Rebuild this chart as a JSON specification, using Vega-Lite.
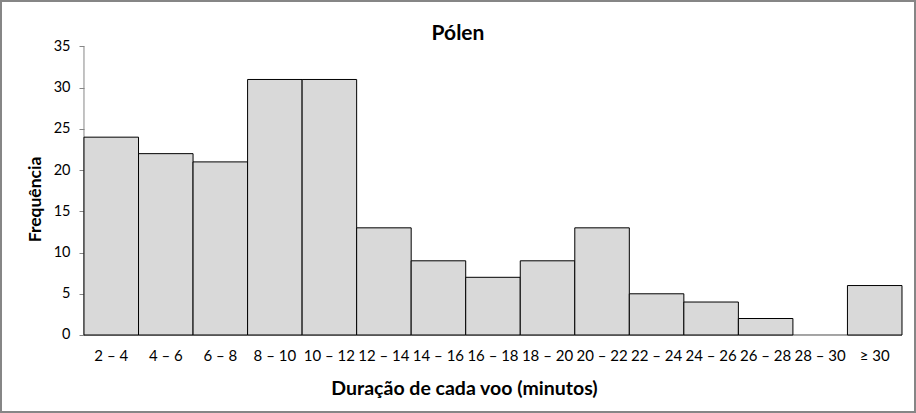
{
  "$schema": "https://vega.github.io/schema/vega-lite/v6.json",
  "width": 916,
  "height": 413,
  "autosize": {"type": "none"},
  "padding": 0,
  "background": "white",
  "config": {
    "view": {"stroke": "#868686", "strokeWidth": 4},
    "font": "Lato"
  },
  "title": {
    "text": "Pólen",
    "fontSize": 21,
    "fontWeight": "bold",
    "font": "Lato",
    "color": "black",
    "anchor": "middle",
    "baseline": "alphabetic",
    "offset": -61
  },
  "data": {
    "values": [
      {"bin": "2 – 4", "freq": 24},
      {"bin": "4 – 6", "freq": 22},
      {"bin": "6 – 8", "freq": 21},
      {"bin": "8 – 10", "freq": 31},
      {"bin": "10 – 12", "freq": 31},
      {"bin": "12 – 14", "freq": 13},
      {"bin": "14 – 16", "freq": 9},
      {"bin": "16 – 18", "freq": 7},
      {"bin": "18 – 20", "freq": 9},
      {"bin": "20 – 22", "freq": 13},
      {"bin": "22 – 24", "freq": 5},
      {"bin": "24 – 26", "freq": 4},
      {"bin": "26 – 28", "freq": 2},
      {"bin": "28 – 30", "freq": 0},
      {"bin": "≥ 30", "freq": 6}
    ]
  },
  "encoding": {
    "x": {
      "field": "bin",
      "type": "nominal",
      "sort": null,
      "scale": {
        "domain": ["2 – 4", "4 – 6", "6 – 8", "8 – 10", "10 – 12", "12 – 14", "14 – 16", "16 – 18", "18 – 20", "20 – 22", "22 – 24", "24 – 26", "26 – 28", "28 – 30", "≥ 30"],
        "paddingInner": 0,
        "paddingOuter": 0.8985,
        "align": 0.857
      },
      "axis": {
        "orient": "bottom",
        "offset": -78,
        "domain": false,
        "ticks": false,
        "tickSize": 0,
        "labelAngle": 0,
        "labelFontSize": 15,
        "labelColor": "black",
        "labelPadding": 13,
        "labelOverlap": false,
        "labelBound": false,
        "title": "Duração de cada voo (minutos)",
        "titleFontSize": 19.5,
        "titleFontWeight": "bold",
        "titleColor": "black",
        "titleX": 464,
        "titleY": 59,
        "titleBaseline": "alphabetic",
        "titleAlign": "center",
        "grid": false
      }
    }
  },
  "layer": [
    {
      "mark": {"type": "rect", "fill": "transparent", "stroke": "#868686", "strokeWidth": 1},
      "encoding": {
        "y": {"datum": 0, "type": "quantitative", "scale": {"domain": [-9.463, 40.641], "nice": false, "zero": false}},
        "y2": {"datum": 0}
      }
    },
    {
      "mark": {"type": "rule", "stroke": "#868686", "strokeWidth": 1},
      "encoding": {
        "x": {"datum": "2 – 4", "bandPosition": 0},
        "y": {"datum": 0, "type": "quantitative"},
        "y2": {"datum": 35}
      },
      "transform": [{"filter": "datum.bin === '2 – 4'"}]
    },
    {
      "transform": [{"filter": "datum.freq > 0"}],
      "mark": {"type": "bar", "fill": "#D9D9D9", "stroke": "black", "strokeWidth": 1},
      "encoding": {
        "y": {
          "field": "freq",
          "type": "quantitative",
          "scale": {"domain": [-9.463, 40.641], "nice": false, "zero": false},
          "axis": {
            "orient": "left",
            "offset": -84,
            "domain": false,
            "values": [0, 5, 10, 15, 20, 25, 30, 35],
            "tickColor": "#868686",
            "tickSize": 5,
            "labelFontSize": 14.5,
            "labelColor": "black",
            "labelPadding": 9,
            "grid": false,
            "title": "Frequência",
            "titleFontSize": 17.5,
            "titleFontWeight": "bold",
            "titleColor": "black",
            "titleX": -49,
            "titleY": 199,
            "titleAngle": -90,
            "titleAlign": "center",
            "titleBaseline": "middle"
          }
        },
        "y2": {"datum": 0}
      }
    }
  ]
}
